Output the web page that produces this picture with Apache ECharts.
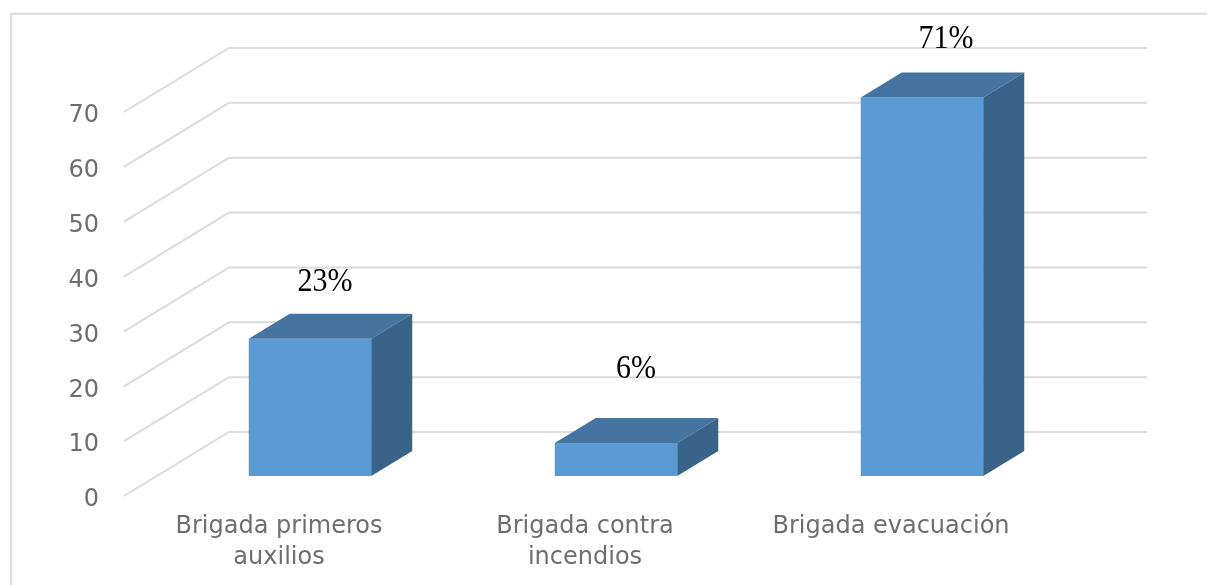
<!DOCTYPE html>
<html>
<head>
<meta charset="utf-8">
<style>html,body{margin:0;padding:0;background:#fff}#c{width:1207px;height:585px}</style>
<script src="https://cdn.jsdelivr.net/npm/echarts@6/dist/echarts.min.js"></script>
</head>
<body>
<div id="c"></div>
<script>
const categories = ['Brigada primeros\nauxilios', 'Brigada contra\nincendios', 'Brigada evacuación'];
const values = [25, 6, 69];
const percentLabels = ['23%', '6%', '71%'];
const yTicks = [0, 10, 20, 30, 40, 50, 60, 70];

// 3D look: wall depth, bar placement inside it, and hand placement of the labels
const wallDepth = [105, -64];
const barInset = [33, -20];
const barDepth = [41, -25];
const barWidth = 122.5;
const labelNudge = [[15, -57], [20, -74.5], [24, -58.5]];

const chart = echarts.init(document.getElementById('c'), null, {renderer: 'canvas'});

function renderWalls(params, api) {
  const v = api.value(0);
  const y = api.coord([0, v])[1];
  const cs = params.coordSys;
  const x0 = cs.x, bx = x0 + wallDepth[0], by = y + wallDepth[1];
  return {
    type: 'polyline',
    shape: {points: [[x0, y], [bx, by], [cs.x + cs.width + wallDepth[0], by]]},
    style: {stroke: '#DCDCDC', lineWidth: 2, fill: null},
    silent: true
  };
}

function renderBars(params, api) {
  const i = api.value(0);
  const c = api.coord([i, api.value(1)]);
  const z = api.coord([i, 0]);
  const l = c[0] + barInset[0] - barWidth / 2, r = l + barWidth;
  const t = c[1] + barInset[1], b = z[1] + barInset[1];
  const dx = barDepth[0], dy = barDepth[1];
  const n = labelNudge[params.dataIndex];
  const lx = (l + r) / 2 + n[0], ly = t + n[1];
  return {
    type: 'group',
    children: [
      {type: 'rect', shape: {x: l, y: t, width: barWidth, height: b - t},
       style: {fill: '#5B9BD5'}},
      {type: 'polygon', shape: {points: [[l, t], [l + dx, t + dy], [r + dx, t + dy], [r, t]]},
       style: {fill: '#44749F'}},
      {type: 'polygon', shape: {points: [[r, t], [r + dx, t + dy], [r + dx, b + dy], [r, b]]},
       style: {fill: '#3A638A'}},
      {type: 'text', x: lx, y: ly, scaleY: 1.14,
       style: {x: 0, y: 0, text: percentLabels[params.dataIndex],
               fontFamily: 'Liberation Serif', fontSize: 30, fill: '#000', align: 'center', verticalAlign: 'middle'}}
    ]
  };
}

chart.setOption({
  animation: false,
  backgroundColor: '#fff',
  graphic: [{
    type: 'polyline', silent: true,
    shape: {points: [[11, 585], [11, 13.75], [1207, 13.75]]},
    style: {stroke: '#DCDCDC', lineWidth: 2.2, fill: null}
  }],
  grid: {left: 124, top: 112, width: 918, height: 384, containLabel: false},
  xAxis: {
    type: 'category', data: categories,
    axisLine: {show: false}, axisTick: {show: false}, splitLine: {show: false},
    axisLabel: {color: '#6E6E6E', fontFamily: 'DejaVu Sans', fontSize: 24, lineHeight: 30.5, margin: 16, interval: 0, padding: [0, 0, 0, 4]}
  },
  yAxis: {
    type: 'value', min: 0, max: 70, interval: 10,
    axisLine: {show: false}, axisTick: {show: false}, splitLine: {show: false},
    axisLabel: {
      margin: 25,
      formatter: '{a|{value}}',
      rich: {a: {color: '#6E6E6E', fontFamily: 'DejaVu Sans', fontSize: 24, padding: [8, 0, 0, 0]}}
    }
  },
  series: [
    {type: 'custom', z: 1, clip: false, renderItem: renderWalls, data: yTicks.map(v => [v]), encode: {y: 0}, silent: true},
    {type: 'custom', z: 2, clip: false, renderItem: renderBars, data: values.map((v, i) => [i, v]), encode: {x: 0, y: 1}, silent: true}
  ]
});
</script>
</body>
</html>
